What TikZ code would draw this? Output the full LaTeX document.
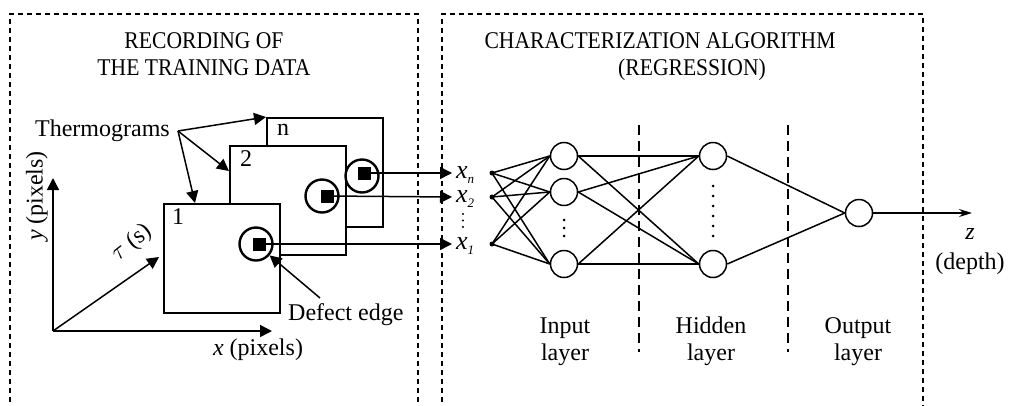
\documentclass[tikz,border=0pt]{standalone}
\usepackage{fontspec}
\setmainfont{Liberation Serif}
\newfontfamily\titlefont[FakeStretch=0.9]{Liberation Serif}
\usetikzlibrary{arrows.meta,calc}

\tikzset{
  panel/.style={draw, line width=1.2pt, dash pattern=on 5pt off 4pt},
  layersep/.style={line width=2.2pt, dash pattern=on 10pt off 6pt},
  frame/.style={draw, fill=white, line width=1.5pt, minimum width=116pt,
    minimum height=109pt, inner sep=0pt, anchor=north west},
  ring/.style={circle, draw, line width=2.4pt, minimum size=33pt, inner sep=0pt},
  spot/.style={fill=black, minimum size=13pt, inner sep=0pt},
  neuron/.style={circle, draw, fill=white, line width=1.5pt, minimum size=27pt, inner sep=0pt},
  tap/.style={circle, fill=black, minimum size=5pt, inner sep=0pt},
  link/.style={line width=1.5pt},
  arr/.style={line width=1.5pt, -{Triangle[length=12pt,width=12pt]}},
  outarr/.style={line width=1.5pt, -{Stealth[length=13pt,width=8pt]}},
  lbl/.style={inner sep=0pt},
  feat/.style={inner sep=0pt, anchor=base west, font=\fontsize{26}{27}\selectfont\itshape},
  heading/.style={inner sep=0pt, font=\titlefont\fontsize{24}{27}\selectfont},
}

\begin{document}
\begin{tikzpicture}[x=1pt, y=-1pt, font=\fontsize{24}{27}\selectfont]
\fill[white] (0,0) rectangle (1011,405);
\clip (0,0) rectangle (1011,405);

% two dashed panels (open at the bottom)
\draw[panel] (10,420) -- (10,14) -- (418,14) -- (418,420);
\draw[panel] (442,420) -- (442,14) -- (923,14) -- (923,420);

% panel titles (base = baseline of the last line)
\node[heading, align=center, anchor=base] (rec) at (204,75)
  {RECORDING OF\\THE TRAINING DATA};
\node[heading, anchor=base] (alg) at (660,48) {CHARACTERIZATION ALGORITHM};
\node[heading, anchor=base] (reg) at (692,75) {(REGRESSION)};

% stack of thermograms
\node[frame] (tn) at (266,117) {};
\node[frame] (t2) at (229,145) {};
\node[frame] (t1) at (163,203) {};
\node[lbl] at ([shift={(17,13)}]tn.north west) {n};
\node[lbl] at ([shift={(17,14)}]t2.north west) {2};
\node[lbl] at ([shift={(15,14)}]t1.north west) {1};

% defect spots
\node[ring] (cn) at (362,176) {};
\node[ring] (c2) at (322,196) {};
\node[ring] (c1) at (256,244) {};
\node[spot] (sn) at (364,173) {};
\node[spot] (s2) at (327,196) {};
\node[spot] (s1) at (259,244) {};

% coordinate axes
\coordinate (O) at (53,331);
\coordinate (ytip) at (53,178);
\coordinate (xtip) at (272,331);
\coordinate (ttip) at (159,257);
\draw[arr] (O) -- (ytip);
\draw[arr] (O) -- (xtip);
\draw[arr] (O) -- (ttip);
\node[lbl, rotate=90] (ylab) at (37,196) {\textit{y} (pixels)};
\node[lbl, anchor=base] (xlab) at (258,355) {\textit{x} (pixels)};
\node[lbl, rotate=38] (tlab) at (132,243) {$\tau$ (s)};

% annotations
\node[lbl, anchor=base east] (therm) at (170,136) {Thermograms};
\coordinate (tsrc) at (178,131);
\draw[arr] (tsrc) -- (tn.north west);
\draw[arr] (tsrc) -- ([yshift=-26pt]t2.north west);
\draw[arr] (tsrc) -- ([xshift=32pt]t1.north west);
\node[lbl, anchor=base west] (defect) at (288,320) {Defect edge};
\coordinate (dsrc) at (320,298);
\draw[arr] (dsrc) -- (c1.-40);

% extracted features
\coordinate (an) at (452,173);
\coordinate (a2) at (452,197);
\coordinate (a1) at (452,244);
\draw[arr] (sn.center) -- (an);
\draw[arr] (s2.center) -- (a2);
\draw[arr] (s1.center) -- (a1);
\node[feat] (xn) at (456,178.5) {x\raisebox{-5pt}{\fontsize{13}{13}\selectfont n}};
\node[feat] (x2) at (456,202.5) {x\raisebox{-5pt}{\fontsize{13}{13}\selectfont 2}};
\node[feat] (x1) at (456,249.5) {x\raisebox{-5pt}{\fontsize{13}{13}\selectfont 1}};
\foreach \yy in {214,220.5,227} \fill (463,\yy) circle (1.1);

% network
\node[tap] (dn) at (492,173) {};
\node[tap] (d2) at (492,197) {};
\node[tap] (d1) at (492,244) {};
\node[neuron] (i1) at (564,156) {};
\node[neuron] (i2) at (564,192) {};
\node[neuron] (i3) at (564,264) {};
\node[neuron] (h1) at (713,156) {};
\node[neuron] (h2) at (713,264) {};
\node[neuron] (o) at (859,213) {};

\foreach \d in {dn,d2,d1}
  \foreach \n in {i1,i2,i3}
    \draw[link] (\d.center) -- (\n.west);
\foreach \n in {i1,i2,i3}
  \foreach \h in {h1,h2}
    \draw[link] (\n.east) -- (\h.west);
\foreach \h in {h1,h2}
  \draw[link] (\h.east) -- (o.west);
\coordinate (zt) at (972,213);
\draw[outarr] (o.east) -- (zt);

\foreach \yy in {220,228,236} \fill (564,\yy) circle (1.5);
\foreach \yy in {186,196,...,236} \fill (713,\yy) circle (1.5);

\draw[layersep] (639,125) -- (639,352);
\draw[layersep] (788,125) -- (788,352);

\node[lbl, align=center, anchor=base] (lin) at (565,360) {Input\\layer};
\node[lbl, align=center, anchor=base] (lhid) at (711,360) {Hidden\\layer};
\node[lbl, align=center, anchor=base] (lout) at (858,360) {Output\\layer};
\node[lbl, align=center, anchor=base] (zlab) at (970,269) {\textit{z}\\[3pt](depth)};
\end{tikzpicture}
\end{document}
